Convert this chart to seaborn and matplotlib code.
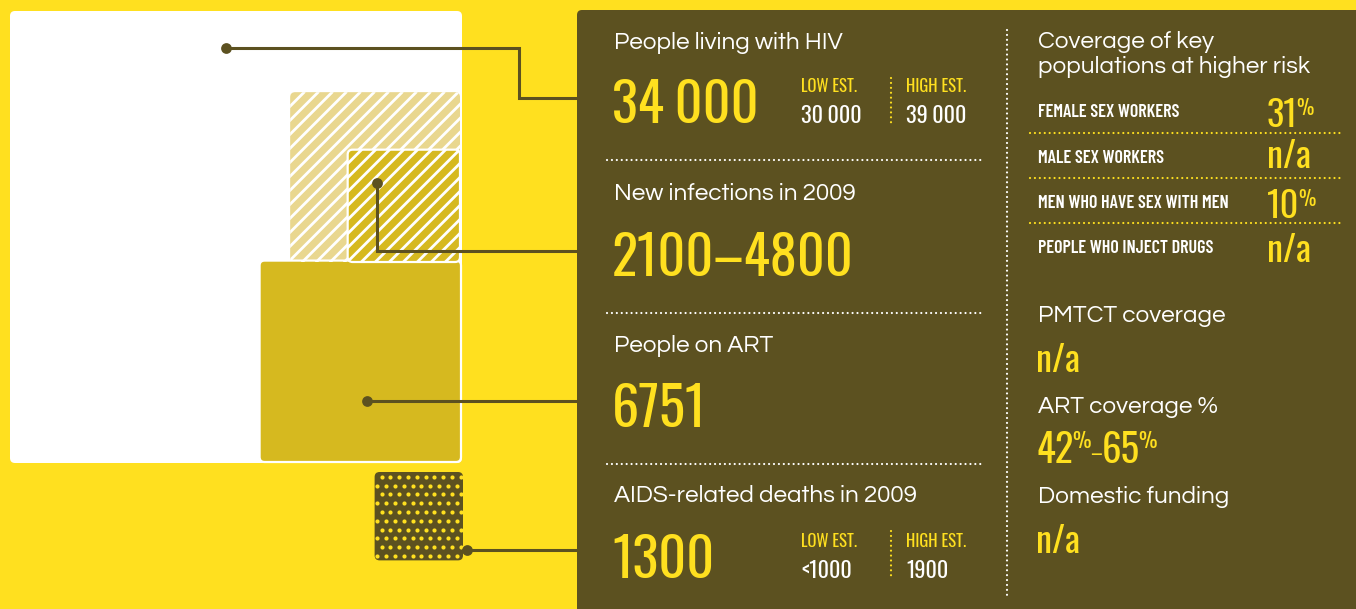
import numpy as np
import pandas as pd
import matplotlib.pyplot as plt
from matplotlib.patches import FancyBboxPatch
import seaborn as sns

# headline figures (left panel)
titles = ["People living with HIV", "New infections in 2009", "People on ART", "AIDS-related deaths in 2009"]
headline = ["34\u2009000", "2100\u20134800", "6751", "1300"]
low_est = ["30\u2009000", None, None, "<1000"]
high_est = ["39\u2009000", None, None, "1900"]

# square areas ~ values: PLHIV, new infections high / low, on ART, deaths
square_vals = [34000, 4800, 2100, 6751, 1300]

# key populations (right panel)
key_pops = ["FEMALE SEX WORKERS", "MALE SEX WORKERS", "MEN WHO HAVE SEX WITH MEN", "PEOPLE WHO INJECT DRUGS"]
key_cov = ["31", "n/a", "10", "n/a"]
pmtct = "n/a"
art_cov = ["42", "65"]
domestic = "n/a"

YELLOW = "#FFE01F"
DARK = "#5C5120"
MUSTARD = "#D6B91F"
PALE = "#E9D78F"
WHITE = "#FFFFFF"

sns.set_theme(style="white")
SANS = ["Questrial", "Lato", "DejaVu Sans"]
NARROW = ["Oswald", "Barlow Condensed", "DejaVu Sans"]
LABEL = ["Barlow Condensed", "Oswald", "DejaVu Sans"]
TSIZE = 17.5

fig = plt.figure(figsize=(13.56, 6.09), dpi=100, facecolor=YELLOW)
ax = fig.add_axes([0, 0, 1, 1])
ax.set_xlim(0, 1356)
ax.set_ylim(609, 0)
ax.axis("off")
ax.set_facecolor(YELLOW)

scale = 452 / np.sqrt(square_vals[0])


def square(value, right, top=None, bottom=None, fc=WHITE, ec="none", lw=0, z=1):
    side = np.sqrt(value) * scale
    if top is None:
        top = bottom - side
    p = FancyBboxPatch((right - side, top), side, side, boxstyle="round,pad=0,rounding_size=5",
                       fc=fc, ec=ec, lw=lw, zorder=z)
    ax.add_patch(p)
    return p, right - side, top, side


def stripes(patch, x0, y0, side, z):
    for c in np.arange(x0 - side, x0 + side + 14, 14):
        ln, = ax.plot([c, c + side], [y0 + side, y0], color=WHITE, lw=2.0, zorder=z)
        ln.set_clip_path(patch)


# squares
square(square_vals[0], 462, bottom=463)
p, x0, y0, s = square(square_vals[1], 460, bottom=262, fc=PALE, z=2)
stripes(p, x0, y0, s, 2.1)
p, x0, y0, s = square(square_vals[2], 460, bottom=262, fc=MUSTARD, z=3)
stripes(p, x0, y0, s, 3.1)
ax.add_patch(FancyBboxPatch((x0, y0), s, s, boxstyle="round,pad=0,rounding_size=5",
                            fc="none", ec=WHITE, lw=1.6, zorder=3.2))
square(square_vals[3], 461, bottom=462, fc=MUSTARD, ec=WHITE, lw=1.6, z=2)
p, x0, y0, s = square(square_vals[4], 463, top=472, fc=DARK, z=2)

# dot texture for the deaths square
rows = np.arange(y0 + 4.7, y0 + s, 8.8)
dx, dy = [], []
for i, yy in enumerate(rows):
    start = x0 + (7 if i % 2 == 0 else 2.7)
    for xx in np.arange(start, x0 + s, 8.8):
        dx.append(xx)
        dy.append(yy)
dots = pd.DataFrame({"x": dx, "y": dy})
sns.scatterplot(data=dots, x="x", y="y", color=YELLOW, s=9, linewidth=0, ax=ax, zorder=2.5)
ax.collections[-1].set_clip_path(p)

# dark panel
ax.add_patch(FancyBboxPatch((577, 10), 800, 640, boxstyle="round,pad=0,rounding_size=5",
                            fc=DARK, ec="none", zorder=1))

# connectors
conn = [([226, 519, 519, 577], [48, 48, 98, 98]),
        ([377, 377, 577], [183, 251, 251]),
        ([367, 577], [401, 401]),
        ([467, 577], [550, 550])]
for xs, ys in conn:
    ax.plot(xs, ys, color=DARK, lw=2.2, zorder=4, solid_joinstyle="miter")
    ax.scatter(xs[0], ys[0], s=60, color=DARK, zorder=4, linewidth=0)

# dotted rules
dot = dict(ls=(0, (0.01, 2.2)), lw=1.6, dash_capstyle="round", zorder=4)
for yy in [160, 313, 464]:
    ax.plot([607, 985], [yy, yy], color=WHITE, **dot)
ax.plot([1007, 1007], [30, 596], color=WHITE, **dot)
for yy in [133, 178, 223]:
    ax.plot([1030, 1343], [yy, yy], color=YELLOW, **dot)
for y1, y2 in [(78, 123), (531, 577)]:
    ax.plot([891, 891], [y1, y2], color=YELLOW, **dot)

# left panel text
title_y = [49, 200, 352, 502]
value_y = [123, 276, 427, 578]
for t, v, lo, hi, ty, vy in zip(titles, headline, low_est, high_est, title_y, value_y):
    ax.text(614, ty, t, color=WHITE, fontsize=TSIZE, family=SANS, va="baseline", zorder=5)
    ax.text(612, vy, v, color=YELLOW, fontsize=39, family=NARROW, fontweight="light",
            va="baseline", zorder=5)
    if lo is not None:
        ax.text(801, vy - 31, "LOW EST.", color=YELLOW, fontsize=12, family=NARROW,
                fontweight="light", va="baseline", zorder=5)
        ax.text(801, vy, lo, color=WHITE, fontsize=16, family=NARROW, fontweight="light",
                va="baseline", zorder=5)
        ax.text(906, vy - 31, "HIGH EST.", color=YELLOW, fontsize=12, family=NARROW,
                fontweight="light", va="baseline", zorder=5)
        ax.text(906, vy, hi, color=WHITE, fontsize=16, family=NARROW, fontweight="light",
                va="baseline", zorder=5)

# right panel text
ax.text(1038, 48, "Coverage of key", color=WHITE, fontsize=TSIZE, family=SANS, va="baseline")
ax.text(1038, 73, "populations at higher risk", color=WHITE, fontsize=TSIZE, family=SANS, va="baseline")


def big(x, y, s, pct=False, size=26):
    t = ax.text(x, y, s, color=YELLOW, fontsize=size, family=NARROW, fontweight="light",
                va="baseline", zorder=5)
    if pct:
        ax.annotate("%", xy=(1, 1), xycoords=t, xytext=(-1, 0), textcoords="offset points",
                    color=YELLOW, fontsize=14, family=NARROW, fontweight="light",
                    va="top", ha="left", zorder=5)
    return t


lab_y = [117, 163, 208, 253]
val_y = [127, 168, 218, 262]
for lab, v, ly, vy in zip(key_pops, key_cov, lab_y, val_y):
    ax.text(1038, ly, lab, color=WHITE, fontsize=13, family=LABEL, fontweight="semibold",
            va="baseline", zorder=5)
    big(1267, vy, v, pct=(v != "n/a"))

ax.text(1038, 322, "PMTCT coverage", color=WHITE, fontsize=TSIZE, family=SANS, va="baseline")
big(1036, 372, pmtct)
ax.text(1038, 413, "ART coverage %", color=WHITE, fontsize=TSIZE, family=SANS, va="baseline")
t1 = big(1036, 463, art_cov[0], size=28)
p1 = ax.annotate("%", xy=(1, 1), xycoords=t1, xytext=(-1, 0), textcoords="offset points",
                 color=YELLOW, fontsize=15, family=NARROW, fontweight="light", va="top", ha="left")
d1 = ax.annotate("\u2013", xy=(1, 0), xycoords=(p1, t1), xytext=(0, 5), textcoords="offset points",
                 color=YELLOW, fontsize=15, family=NARROW, fontweight="light", va="bottom", ha="left")
t2 = ax.annotate(art_cov[1], xy=(1, 0), xycoords=(d1, t1), color=YELLOW, fontsize=28, family=NARROW,
                 fontweight="light", va="bottom", ha="left")
ax.annotate("%", xy=(1, 1), xycoords=t2, xytext=(-1, 0), textcoords="offset points",
            color=YELLOW, fontsize=15, family=NARROW, fontweight="light", va="top", ha="left")
ax.text(1038, 503, "Domestic funding", color=WHITE, fontsize=TSIZE, family=SANS, va="baseline")
big(1036, 553, domestic)

fig.savefig("out.png", dpi=100, facecolor=YELLOW)
